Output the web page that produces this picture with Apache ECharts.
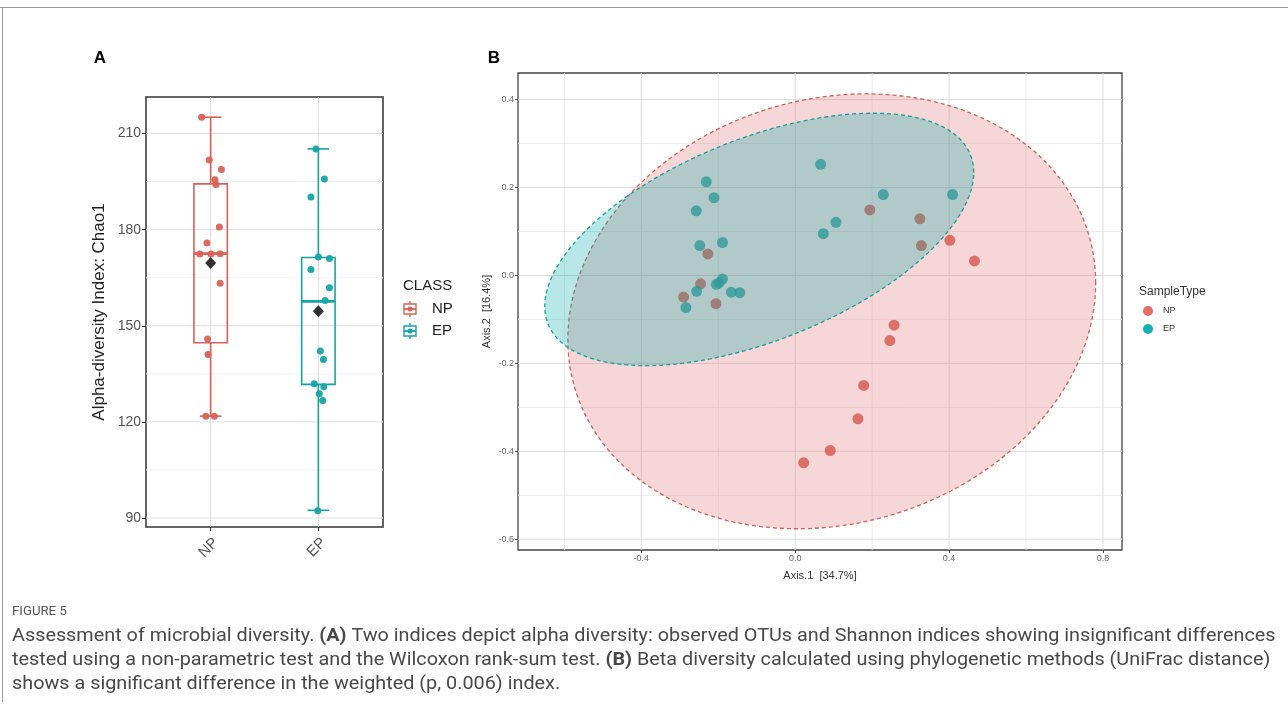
<!DOCTYPE html>
<html><head><meta charset="utf-8">
<script src="https://cdn.jsdelivr.net/npm/echarts@6/dist/echarts.min.js"></script>
<style>html,body{margin:0;padding:0;background:#fff}#c{width:1288px;height:717px}</style>
</head><body><div id="c"></div>
<script>
// ---------- Panel A data (Chao1 alpha diversity) ----------
const categories = ['NP', 'EP'];
// [lower whisker, Q1, median, Q3, upper whisker]
const boxStats = [
  [121.8, 144.7, 172.5, 194.3, 215.1],
  [92.4, 131.7, 157.6, 171.3, 205.2]
];
const meanValues = [169.6, 154.5];
const npValues = [215.1, 201.7, 198.8, 195.6, 194.1, 180.8, 175.8, 172.4, 172.4, 172.5, 163.3, 145.9, 141.0, 121.8, 121.8];
const npJitter = [-0.084, -0.013, 0.10, 0.04, 0.05, 0.081, -0.034, -0.10, 0.003, 0.088, 0.088, -0.028, -0.024, -0.044, 0.034];
const epValues = [205.2, 195.8, 190.2, 171.5, 171.0, 167.6, 161.9, 157.9, 142.1, 139.5, 131.9, 131.0, 128.8, 126.7, 92.3];
const epJitter = [-0.022, 0.056, -0.069, 0.0, 0.103, -0.069, 0.103, 0.063, 0.019, 0.047, -0.038, 0.05, 0.009, 0.04, -0.006];
const yTicksA = [90, 120, 150, 180, 210];
const yMinorA = [105, 135, 165, 195];

// ---------- Panel B data (PCoA, weighted UniFrac) ----------
const npPCoA = [
  [-0.227, 0.049], [-0.246, -0.019], [-0.290, -0.049], [-0.206, -0.064],
  [0.194, 0.149], [0.324, 0.129], [0.328, 0.068], [0.402, 0.080], [0.466, 0.033],
  [0.257, -0.113], [0.246, -0.148], [0.178, -0.250], [0.163, -0.326], [0.091, -0.398], [0.022, -0.426]
];
const epPCoA = [
  [-0.231, 0.213], [-0.211, 0.177], [-0.257, 0.147], [-0.248, 0.068], [-0.189, 0.075],
  [-0.189, -0.008], [-0.198, -0.017], [-0.205, -0.020], [-0.256, -0.036], [-0.166, -0.038], [-0.144, -0.039],
  [-0.284, -0.073], [0.066, 0.253], [0.229, 0.184], [0.409, 0.184], [0.106, 0.121], [0.073, 0.095]
];
// confidence ellipses: [centre x, centre y, half-width x, half-height y, cos(phase)]
const ellipseNP = [0.095, -0.0815, 0.686, 0.4945, 0.13];
const ellipseEP = [-0.0935, 0.082, 0.5575, 0.287, 0.53];
const xTicksB = [-0.4, 0, 0.4, 0.8];
const xMinorB = [-0.6, -0.2, 0.2, 0.6];
const yTicksB = [-0.6, -0.4, -0.2, 0, 0.2, 0.4];
const yMinorB = [-0.5, -0.3, -0.1, 0.1, 0.3];

// ---------- styles ----------
const RED = '#d8625a', TEAL = '#17a4a4';
const RED_B = '#d3473c', TEAL_B = '#00a2a2';
const catPos = categories.map((c, i) => i + 1);
const BOX_W = 0.31, CAP_W = 0.2;
const A_X = [0.4, 2.6], A_Y = [87.2, 221.4];
const B_X = [-0.7205, 0.8494], B_Y = [-0.6243, 0.4605];

function gridData(xMajor, xMinor, yMajor, yMinor) {
  const d = [];
  yMinor.forEach(v => d.push([0, v, 0]));
  xMinor.forEach(v => d.push([1, v, 0]));
  yMajor.forEach(v => d.push([0, v, 1]));
  xMajor.forEach(v => d.push([1, v, 1]));
  return d;
}
function makeGridRender(xr, yr, majorColor, minorColor) {
  return function (params, api) {
    const o = api.value(0), v = api.value(1), major = api.value(2);
    let p1, p2;
    if (o === 0) { p1 = api.coord([xr[0], v]); p2 = api.coord([xr[1], v]); }
    else { p1 = api.coord([v, yr[0]]); p2 = api.coord([v, yr[1]]); }
    return { type: 'line', shape: { x1: p1[0], y1: p1[1], x2: p2[0], y2: p2[1] },
      style: { stroke: major ? majorColor : minorColor, lineWidth: major ? 1 : 0.8 } };
  };
}
function renderBox(params, api) {
  const x = api.value(0), lo = api.value(1), q1 = api.value(2), md = api.value(3), q3 = api.value(4), hi = api.value(5);
  const col = [RED, TEAL][params.dataIndex];
  const tl = api.coord([x - BOX_W / 2, q3]), br = api.coord([x + BOX_W / 2, q1]);
  const mL = api.coord([x - BOX_W / 2, md]), mR = api.coord([x + BOX_W / 2, md]);
  const top = api.coord([x, hi]), bot = api.coord([x, lo]);
  const cL = api.coord([x - CAP_W / 2, hi]), cR = api.coord([x + CAP_W / 2, lo]);
  const s = { stroke: col, lineWidth: 1.6, fill: null };
  return { type: 'group', children: [
    { type: 'line', shape: { x1: top[0], y1: top[1], x2: top[0], y2: tl[1] }, style: s },
    { type: 'line', shape: { x1: bot[0], y1: br[1], x2: bot[0], y2: bot[1] }, style: s },
    { type: 'line', shape: { x1: cL[0], y1: top[1], x2: cR[0], y2: top[1] }, style: s },
    { type: 'line', shape: { x1: cL[0], y1: bot[1], x2: cR[0], y2: bot[1] }, style: s },
    { type: 'rect', shape: { x: tl[0], y: tl[1], width: br[0] - tl[0], height: br[1] - tl[1] }, style: { stroke: col, lineWidth: 1.6, fill: 'none' } },
    { type: 'line', shape: { x1: mL[0], y1: mL[1], x2: mR[0], y2: mR[1] }, style: { stroke: col, lineWidth: 2.8 } }
  ] };
}
function renderEllipse(params, api) {
  const cx = api.value(0), cy = api.value(1), rx = api.value(2), ry = api.value(3), cd = api.value(4);
  const d = Math.acos(cd);
  const pts = [];
  for (let k = 0; k < 180; k++) {
    const t = 2 * Math.PI * k / 180;
    pts.push(api.coord([cx + rx * Math.cos(t), cy + ry * Math.cos(t - d)]));
  }
  const isNP = params.dataIndex === 0;
  return { type: 'polygon', shape: { points: pts },
    style: { fill: isNP ? 'rgba(225,120,120,0.30)' : 'rgba(0,168,168,0.28)',
      stroke: isNP ? '#c8645e' : '#1a9c9c', lineWidth: 1.3, lineDash: [4, 3] } };
}

const chart = echarts.init(document.getElementById('c'), null, { renderer: 'canvas' });

// caption scaling (condensed look)
const CAP_FAMILY = 'Roboto';
const CAP_SIZE = 18;
const mctx = document.createElement('canvas').getContext('2d');
mctx.font = CAP_SIZE + 'px ' + CAP_FAMILY;
const cap1 = 'Assessment of microbial diversity. (A) Two indices depict alpha diversity: observed OTUs and Shannon indices showing insignificant differences';
const capScale = 1263 / mctx.measureText(cap1).width;
const capFont = CAP_SIZE + 'px ' + CAP_FAMILY;
const richB = { b: { fontWeight: 'bold', fontSize: CAP_SIZE, fontFamily: CAP_FAMILY, fill: '#484848' } };

const option = {
  backgroundColor: '#fff',
  animation: false,
  grid: [
    { left: 146, top: 97, width: 237, height: 430, show: true, borderColor: '#333', borderWidth: 1.5, backgroundColor: 'transparent' },
    { left: 518, top: 73, width: 604, height: 477, show: true, borderColor: '#444', borderWidth: 1.3, backgroundColor: 'transparent' }
  ],
  xAxis: [
    { gridIndex: 0, type: 'value', min: A_X[0], max: A_X[1],
      axisLine: { show: false, onZero: false }, splitLine: { show: false },
      axisTick: { customValues: catPos, length: 4, lineStyle: { color: '#333' } },
      axisLabel: { customValues: catPos, formatter: v => categories[Math.round(v) - 1], rotate: 45, fontSize: 15, color: '#555', margin: 8, verticalAlign: 'top', fontFamily: 'Liberation Sans' } },
    { gridIndex: 1, type: 'value', min: B_X[0], max: B_X[1],
      axisLine: { show: false, onZero: false }, splitLine: { show: false },
      axisTick: { customValues: xTicksB, length: 3, lineStyle: { color: '#444' } },
      axisLabel: { customValues: xTicksB, formatter: v => v.toFixed(1), fontSize: 9, color: '#666', margin: 4, fontFamily: 'Liberation Sans' },
      name: 'Axis.1  [34.7%]', nameLocation: 'middle', nameGap: 20,
      nameTextStyle: { fontSize: 11, color: '#333', fontFamily: 'Liberation Sans' } }
  ],
  yAxis: [
    { gridIndex: 0, type: 'value', min: A_Y[0], max: A_Y[1],
      axisLine: { show: false, onZero: false }, splitLine: { show: false },
      axisTick: { customValues: yTicksA, length: 4, lineStyle: { color: '#333' } },
      axisLabel: { customValues: yTicksA, fontSize: 14, color: '#555', margin: 5, fontFamily: 'Liberation Sans' },
      name: 'Alpha-diversity Index: Chao1', nameLocation: 'middle', nameGap: 38,
      nameTextStyle: { fontSize: 17, color: '#222', fontFamily: 'Liberation Sans' } },
    { gridIndex: 1, type: 'value', min: B_Y[0], max: B_Y[1],
      axisLine: { show: false, onZero: false }, splitLine: { show: false },
      axisTick: { customValues: yTicksB, length: 3, lineStyle: { color: '#444' } },
      axisLabel: { customValues: yTicksB, formatter: v => v.toFixed(1), fontSize: 9, color: '#666', margin: 4, fontFamily: 'Liberation Sans' },
      name: 'Axis.2  [16.4%]', nameLocation: 'middle', nameGap: 26,
      nameTextStyle: { fontSize: 11, color: '#333', fontFamily: 'Liberation Sans' } }
  ],
  series: [
    { type: 'custom', xAxisIndex: 0, yAxisIndex: 0, silent: true, z: 1,
      data: gridData(catPos, [], yTicksA, yMinorA),
      renderItem: makeGridRender(A_X, A_Y, '#dedede', '#eeeeee') },
    { type: 'custom', xAxisIndex: 0, yAxisIndex: 0, z: 2,
      data: boxStats.map((b, i) => [catPos[i]].concat(b)),
      renderItem: renderBox },
    { type: 'scatter', name: 'NP', xAxisIndex: 0, yAxisIndex: 0, z: 3, symbolSize: 7,
      itemStyle: { color: RED, opacity: 0.95 },
      data: npValues.map((v, i) => [catPos[0] + npJitter[i], v]) },
    { type: 'scatter', name: 'EP', xAxisIndex: 0, yAxisIndex: 0, z: 3, symbolSize: 7,
      itemStyle: { color: TEAL, opacity: 0.95 },
      data: epValues.map((v, i) => [catPos[1] + epJitter[i], v]) },
    { type: 'scatter', name: 'mean', xAxisIndex: 0, yAxisIndex: 0, z: 4, symbol: 'diamond', symbolSize: [11, 12],
      itemStyle: { color: '#000' },
      data: meanValues.map((v, i) => [catPos[i], v]) },

    { type: 'custom', xAxisIndex: 1, yAxisIndex: 1, silent: true, z: 1,
      data: gridData(xTicksB, xMinorB, yTicksB, yMinorB),
      renderItem: makeGridRender(B_X, B_Y, '#dcdcdc', '#e6e6e6') },
    { type: 'scatter', name: 'NP ', xAxisIndex: 1, yAxisIndex: 1, z: 2, symbolSize: 11,
      itemStyle: { color: RED_B }, data: npPCoA },
    { type: 'scatter', name: 'EP ', xAxisIndex: 1, yAxisIndex: 1, z: 2, symbolSize: 11,
      itemStyle: { color: TEAL_B }, data: epPCoA },
    { type: 'custom', xAxisIndex: 1, yAxisIndex: 1, silent: true, z: 3,
      data: [ellipseNP, ellipseEP], renderItem: renderEllipse }
  ],
  graphic: [
    { type: 'line', shape: { x1: 0, y1: 7.5, x2: 1288, y2: 7.5 }, style: { stroke: '#9a9a9a', lineWidth: 1 } },
    { type: 'line', shape: { x1: 2.5, y1: 7, x2: 2.5, y2: 702 }, style: { stroke: '#9a9a9a', lineWidth: 1 } },
    { type: 'text', x: 100, y: 58, style: { text: 'A', font: 'bold 17px "Liberation Sans"', fill: '#000', align: 'center', verticalAlign: 'middle' } },
    { type: 'text', x: 494, y: 58, style: { text: 'B', font: 'bold 17px "Liberation Sans"', fill: '#000', align: 'center', verticalAlign: 'middle' } },
    // legend A
    { type: 'text', x: 403, y: 286, style: { text: 'CLASS', font: '15px "Liberation Sans"', fill: '#222', verticalAlign: 'middle' } },
    { type: 'group', x: 410, y: 309, children: [
      { type: 'line', shape: { x1: 0, y1: -8, x2: 0, y2: 8 }, style: { stroke: RED, lineWidth: 1.4 } },
      { type: 'rect', shape: { x: -6, y: -5, width: 12, height: 10 }, style: { stroke: RED, fill: '#fff', lineWidth: 1.4 } },
      { type: 'line', shape: { x1: -6, y1: 0, x2: 6, y2: 0 }, style: { stroke: RED, lineWidth: 1.8 } },
      { type: 'circle', shape: { cx: 0, cy: 0, r: 2.5 }, style: { fill: RED } }
    ] },
    { type: 'group', x: 410, y: 331, children: [
      { type: 'line', shape: { x1: 0, y1: -8, x2: 0, y2: 8 }, style: { stroke: TEAL, lineWidth: 1.4 } },
      { type: 'rect', shape: { x: -6, y: -5, width: 12, height: 10 }, style: { stroke: TEAL, fill: '#fff', lineWidth: 1.4 } },
      { type: 'line', shape: { x1: -6, y1: 0, x2: 6, y2: 0 }, style: { stroke: TEAL, lineWidth: 1.8 } },
      { type: 'circle', shape: { cx: 0, cy: 0, r: 2.5 }, style: { fill: TEAL } }
    ] },
    { type: 'text', x: 432, y: 309, style: { text: categories[0], font: '15px "Liberation Sans"', fill: '#222', verticalAlign: 'middle' } },
    { type: 'text', x: 432, y: 331, style: { text: categories[1], font: '15px "Liberation Sans"', fill: '#222', verticalAlign: 'middle' } },
    // legend B
    { type: 'text', x: 1139, y: 292, style: { text: 'SampleType', font: '12px "Liberation Sans"', fill: '#333', verticalAlign: 'middle' } },
    { type: 'circle', shape: { cx: 1148, cy: 311, r: 5 }, style: { fill: '#e26e66' } },
    { type: 'circle', shape: { cx: 1148, cy: 329, r: 5 }, style: { fill: '#18b0b3' } },
    { type: 'text', x: 1163, y: 311, style: { text: categories[0], font: '9px "Liberation Sans"', fill: '#333', verticalAlign: 'middle' } },
    { type: 'text', x: 1163, y: 329, style: { text: categories[1], font: '9px "Liberation Sans"', fill: '#333', verticalAlign: 'middle' } },
    // caption
    { type: 'text', x: 12, y: 612, scaleX: capScale, style: { text: 'FIGURE 5', font: '12px ' + CAP_FAMILY, fill: '#555', verticalAlign: 'middle' } },
    { type: 'text', x: 12, y: 636, scaleX: capScale, style: { text: 'Assessment of microbial diversity. {b|(A)} Two indices depict alpha diversity: observed OTUs and Shannon indices showing insignificant differences', font: capFont, fill: '#484848', verticalAlign: 'middle', rich: richB } },
    { type: 'text', x: 12, y: 660, scaleX: capScale, style: { text: 'tested using a non-parametric test and the Wilcoxon rank-sum test. {b|(B)} Beta diversity calculated using phylogenetic methods (UniFrac distance)', font: capFont, fill: '#484848', verticalAlign: 'middle', rich: richB } },
    { type: 'text', x: 12, y: 684, scaleX: capScale, style: { text: 'shows a significant difference in the weighted (p, 0.006) index.', font: capFont, fill: '#484848', verticalAlign: 'middle' } }
  ]
};
chart.setOption(option);
</script>
</body></html>
